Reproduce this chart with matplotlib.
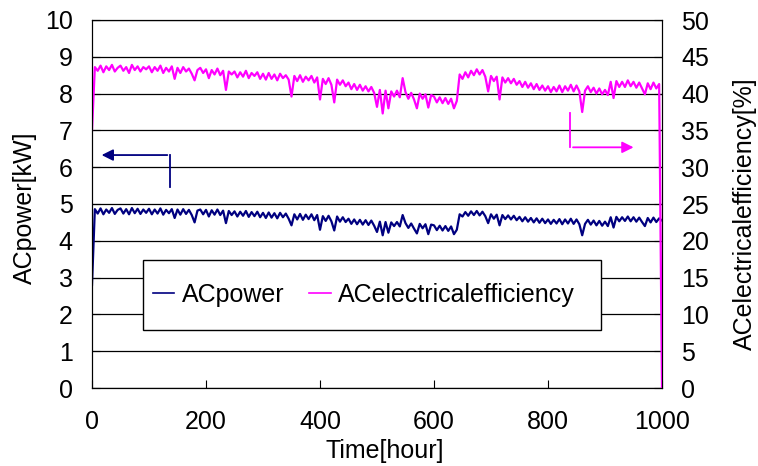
import matplotlib
matplotlib.use("Agg")
import matplotlib.pyplot as plt
from matplotlib.patches import Rectangle
import numpy as np

plt.rcParams['font.family'] = ['Liberation Sans', 'DejaVu Sans']

# time axis, one sample every 5 hours
time_step = 5
time = np.arange(0, 1001, time_step)

# AC power [kW]
ac_power = [
    2.80, 4.86, 4.74, 4.88, 4.72, 4.85, 4.76, 4.89, 4.73, 4.84,
    4.88, 4.74, 4.86, 4.72, 4.89, 4.75, 4.87, 4.73, 4.85, 4.76,
    4.87, 4.72, 4.85, 4.74, 4.88, 4.71, 4.84, 4.75, 4.86, 4.62,
    4.85, 4.71, 4.86, 4.73, 4.84, 4.70, 4.50, 4.82, 4.85, 4.72,
    4.84, 4.66, 4.83, 4.71, 4.85, 4.70, 4.82, 4.48, 4.81, 4.70,
    4.80, 4.66, 4.79, 4.68, 4.81, 4.65, 4.78, 4.67, 4.79, 4.64,
    4.76, 4.62, 4.77, 4.63, 4.75, 4.61, 4.76, 4.64, 4.74, 4.60,
    4.42, 4.72, 4.58, 4.73, 4.57, 4.71, 4.59, 4.72, 4.56, 4.70,
    4.30, 4.67, 4.54, 4.68, 4.53, 4.28, 4.66, 4.52, 4.64, 4.51,
    4.60, 4.46, 4.58, 4.45, 4.57, 4.44, 4.56, 4.43, 4.55, 4.41,
    4.24, 4.52, 4.15, 4.51, 4.22, 4.50, 4.40, 4.51, 4.39, 4.70,
    4.48, 4.35, 4.47, 4.33, 4.20, 4.46, 4.34, 4.45, 4.18, 4.44,
    4.42, 4.29, 4.41, 4.28, 4.40, 4.27, 4.39, 4.18, 4.30, 4.72,
    4.66, 4.78, 4.68, 4.80, 4.70, 4.81, 4.69, 4.79, 4.67, 4.48,
    4.72, 4.60, 4.71, 4.42, 4.70, 4.59, 4.69, 4.58, 4.68, 4.56,
    4.65, 4.53, 4.64, 4.52, 4.62, 4.50, 4.61, 4.49, 4.60, 4.48,
    4.58, 4.46, 4.57, 4.47, 4.59, 4.45, 4.58, 4.47, 4.60, 4.46,
    4.58, 4.45, 4.15, 4.46, 4.57, 4.44, 4.55, 4.42, 4.54, 4.41,
    4.52, 4.40, 4.64, 4.36, 4.65, 4.53, 4.64, 4.54, 4.66, 4.53,
    4.64, 4.52, 4.63, 4.51, 4.40, 4.62, 4.50, 4.63, 4.51, 4.61,
    4.55,
]

# AC electrical efficiency [%]
ac_efficiency = [
    35.0, 43.6, 43.1, 43.8, 42.9, 43.7, 43.2, 43.9, 43.0, 43.5,
    43.8, 43.1, 43.6, 42.8, 43.9, 43.2, 43.7, 43.0, 43.6, 43.3,
    43.7, 42.9, 43.6, 43.1, 43.8, 42.8, 43.5, 43.0, 43.7, 42.0,
    43.5, 42.8, 43.6, 43.0, 43.4, 42.7, 41.8, 43.2, 43.5, 42.8,
    43.3, 42.1, 43.2, 42.6, 43.4, 42.5, 43.1, 40.5, 43.0, 42.6,
    43.0, 42.2, 42.9, 42.3, 43.1, 42.1, 42.8, 42.4, 42.9, 42.0,
    42.7, 41.9, 42.8, 42.0, 42.6, 41.8, 42.7, 42.1, 42.5, 41.9,
    39.6, 42.4, 41.7, 42.5, 41.6, 42.3, 41.8, 42.4, 41.5, 42.2,
    39.2, 42.0, 41.3, 42.1, 41.2, 38.8, 41.9, 41.2, 41.8, 41.0,
    41.5, 40.6, 41.3, 40.5, 41.2, 40.4, 41.0, 40.3, 40.9, 40.1,
    38.2, 40.5, 37.3, 40.4, 38.0, 40.3, 39.6, 40.4, 39.5, 42.1,
    40.2, 39.3, 40.1, 39.2, 38.0, 40.0, 39.3, 39.9, 38.1, 39.8,
    39.6, 38.8, 39.5, 38.7, 39.4, 38.6, 39.3, 38.0, 39.0, 42.6,
    42.0, 42.9, 42.2, 43.1, 42.5, 43.3, 42.6, 43.2, 42.3, 40.3,
    42.4, 41.7, 42.3, 39.2, 42.2, 41.5, 42.1, 41.4, 42.0, 41.2,
    41.7, 40.9, 41.6, 40.8, 41.4, 40.6, 41.3, 40.5, 41.1, 40.4,
    41.0, 40.2, 40.9, 40.3, 41.1, 40.2, 41.0, 40.4, 41.2, 40.3,
    41.1, 40.3, 37.5, 40.4, 41.0, 40.2, 40.8, 40.0, 40.7, 39.9,
    40.5, 39.8, 41.6, 39.4, 41.7, 40.9, 41.6, 40.9, 41.8, 41.0,
    41.6, 40.8, 41.5, 40.7, 39.9, 41.4, 40.6, 41.5, 40.7, 41.3,
    0.0,
]

power_ticks = np.arange(0, 11, 1)
eff_ticks = np.arange(0, 51, 5)
time_ticks = np.arange(0, 1001, 200)

NAVY = "#000080"
MAGENTA = "#FF00FF"
FS = 18

fig = plt.figure(figsize=(7.58, 4.66), dpi=100)
ax = fig.add_axes([92 / 758, 1 - 388 / 466, 570 / 758, 368 / 466])
ax2 = ax.twinx()

l1, = ax.plot(time, ac_power, color=NAVY, lw=1.6, label="ACpower")
l2, = ax2.plot(time, ac_efficiency, color=MAGENTA, lw=1.6, label="ACelectricalefficiency")

ax.set_xlim(0, 1000)
ax.set_ylim(0, 10)
ax2.set_ylim(0, 50)
ax.set_xticks(time_ticks)
ax.set_yticks(power_ticks)
ax2.set_yticks(eff_ticks)

ax.grid(True, axis="y", color="black", lw=0.9)
ax.set_axisbelow(True)

ax.tick_params(axis="x", direction="in", length=6, labelsize=FS, pad=16)
ax.tick_params(axis="y", direction="in", length=6, labelsize=FS, pad=14)
ax2.tick_params(axis="y", direction="in", length=6, labelsize=FS, pad=14)

ax.set_xlabel("Time[hour]", fontsize=FS)
ax.xaxis.set_label_coords(0.514, -0.138)
ax.set_ylabel("ACpower[kW]", fontsize=FS)
ax.yaxis.set_label_coords(-0.097, 0.49)
ax2.set_ylabel("ACelectricalefficiency[%]", fontsize=FS)
ax2.yaxis.set_label_coords(1.125, 0.475)

# arrows pointing to the axis of each series
ax.plot([137, 137], [5.46, 6.33], color=NAVY, lw=1.3)
ax.annotate("", xy=(12, 6.33), xytext=(137, 6.33),
            arrowprops=dict(arrowstyle="-|>", color=NAVY, lw=1.3, mutation_scale=17))
ax2.plot([839, 839], [37.4, 32.7], color=MAGENTA, lw=1.3)
ax2.annotate("", xy=(955, 32.7), xytext=(839, 32.7),
             arrowprops=dict(arrowstyle="-|>", color=MAGENTA, lw=1.3, mutation_scale=17))

# legend box: frame drawn separately, it is wider and taller than the entries
ax2.add_patch(Rectangle((0.0895, 0.1576), 0.8035, 0.1904, transform=ax2.transAxes,
                        facecolor="white", edgecolor="black", lw=1.0, zorder=4))
leg = ax2.legend(handles=[l1, l2], loc="center left", bbox_to_anchor=(0.107, 0.2527),
                 ncol=2, fontsize=FS, frameon=False, borderpad=0, handlelength=0.85,
                 handletextpad=0.3, columnspacing=1.0, borderaxespad=0)
leg.set_zorder(5)
for h in leg.get_lines():
    h.set_linewidth(1.2)

fig.savefig("out.png", dpi=100)
